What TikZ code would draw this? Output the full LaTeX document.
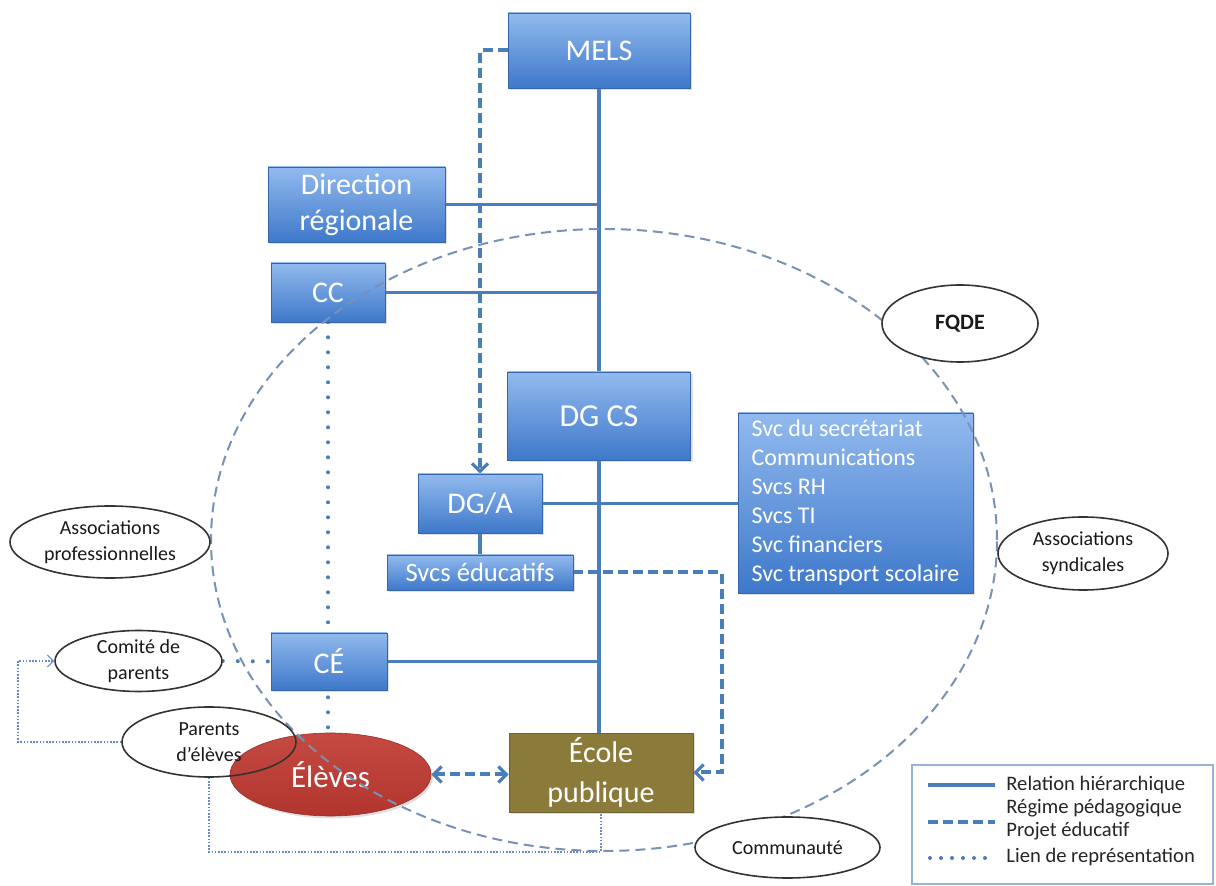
\documentclass[tikz,border=0pt]{standalone}
\usepackage{fontspec}
\setmainfont{Carlito}
\usetikzlibrary{arrows.meta,shadows,shapes.geometric,backgrounds}
\definecolor{boxtop}{RGB}{146,186,238}
\definecolor{boxbot}{RGB}{62,120,202}
\definecolor{hier}{RGB}{74,126,187}
\definecolor{bigell}{RGB}{120,145,182}
\definecolor{redel}{RGB}{192,58,50}
\definecolor{ecolecol}{RGB}{138,123,59}
\definecolor{thinblue}{RGB}{100,140,205}
\definecolor{legborder}{RGB}{149,179,215}
\tikzset{barb/.tip={Straight Barb[length=4pt,width=8pt,line width=1.6pt]},
  thinbarb/.tip={Straight Barb[length=3pt,width=6pt,line width=0.6pt]}}
\begin{document}
\begin{tikzpicture}[x=0.5pt,y=-0.5pt,
  bluebox/.style={rectangle, top color=boxtop, bottom color=boxbot, draw=boxbot!85!black, line width=0.3pt,
    text=white, font=\fontsize{15}{18}\selectfont, align=center, inner sep=0pt,
    drop shadow={opacity=0.25, shadow xshift=1pt, shadow yshift=-1.2pt}},
  oval/.style={ellipse, draw=black!80, line width=0.8pt, inner sep=0pt, align=center,
    font=\fontsize{10}{13}\selectfont, text=black!90},
  hierline/.style={draw=hier, line width=1.6pt},
  dashline/.style={draw=hier, line width=2pt, dash pattern=on 5pt off 2.5pt},
  dotline/.style={draw=hier, line width=2pt, line cap=round, dash pattern=on 0pt off 7.5pt},
  thindot/.style={draw=thinblue, line width=0.6pt, dash pattern=on 0.8pt off 0.8pt},
  legtext/.style={anchor=west, font=\fontsize{10.3}{11.5}\selectfont, text=black!85, align=left, inner sep=0pt}
]
\useasboundingbox (0,0) rectangle (1216,886);

% boxes
\node[bluebox, minimum width=91pt, minimum height=37.5pt] (mels) at (599,50.5) {MELS};
\node[bluebox, minimum width=88.5pt, minimum height=37.5pt] (dir) at (356.5,204.5) {Direction\\régionale};
\node[bluebox, minimum width=57pt, minimum height=29.5pt] (cc) at (328,292.5) {CC};
\node[bluebox, minimum width=91.5pt, minimum height=44pt, font=\fontsize{16}{18}\selectfont] (dgcs) at (599,416) {DG CS};
\node[bluebox, minimum width=62pt, minimum height=29.5pt] (dga) at (480,503.5) {DG/A};
\node[bluebox, minimum width=93pt, minimum height=17.5pt, font=\fontsize{13.3}{15}\selectfont] (svcedu) at (480,572.5) {Svcs éducatifs};
\node[bluebox, minimum width=117.5pt, minimum height=90pt, align=left, font=\fontsize{12}{14.5}\selectfont] (svc) at (855.5,503)
  {Svc du secrétariat\\Communications\\Svcs RH\\Svcs TI\\Svc financiers\\Svc transport scolaire};
\node[bluebox, minimum width=58pt, minimum height=28.5pt] (ce) at (329,661.5) {CÉ};
\node[rectangle, fill=ecolecol, draw=ecolecol!80!black, line width=0.3pt, text=white, align=center, inner sep=0pt,
  font=\fontsize{15}{20}\selectfont, minimum width=92pt, minimum height=39.5pt,
  drop shadow={opacity=0.25, shadow xshift=1pt, shadow yshift=-1.2pt}] (ecole) at (601,772.5) {École\\publique};
\node[ellipse, top color=redel!92!white, bottom color=redel!92!black, draw=redel!80!black, line width=0.3pt, text=white, inner sep=0pt,
  font=\fontsize{15.5}{18}\selectfont, minimum width=100.5pt, minimum height=41.5pt,
  drop shadow={opacity=0.25, shadow xshift=1pt, shadow yshift=-1.2pt}] (eleves) at (330.5,774.5) {Élèves};

% big dashed ellipse
\node[ellipse, draw=bigell, line width=1pt, dash pattern=on 5pt off 3pt, minimum width=393pt, minimum height=311pt, inner sep=0pt] (cs) at (604,540) {};

% outside ellipses
\node[oval, fill=white, minimum width=78pt, minimum height=38.5pt, font=\fontsize{11}{13}\selectfont\bfseries] (fqde) at (960,323.5) {FQDE};
\node[oval, minimum width=100pt, minimum height=36pt] (aprof) at (110,542) {Associations\\professionnelles};
\node[oval, fill=white, minimum width=85pt, minimum height=36.5pt] (asynd) at (1083,553.5) {Associations\\syndicales};
\node[oval, fill=white, minimum width=83.5pt, minimum height=29pt] (comite) at (138.5,661) {Comité de\\parents};
\node[oval, minimum width=87pt, minimum height=35pt] (parents) at (209,742) {Parents\\d’élèves};
\node[oval, fill=white, minimum width=92.5pt, minimum height=30.5pt] (commu) at (787.5,847.5) {Communauté};

% connectors (behind the boxes)
\coordinate (bendA) at (722,572.5);
\coordinate (pl) at (18,742);
\coordinate (pb) at (209,852);
\begin{scope}[on background layer]
  \draw[hierline] (mels.south) -- (mels.south |- ecole.north);
  \draw[hierline] (dir.east) -- (dir.east -| mels.south);
  \draw[hierline] (cc.east) -- (cc.east -| mels.south);
  \draw[hierline] (ce.east) -- (ce.east -| mels.south);
  \draw[hierline] (dga.east) -- (svc.west |- dga.east);
  \draw[hierline] (dga.south) -- (svcedu.north);
  \draw[dashline, -{barb}] (mels.west) -| (dga.north);
  \draw[dashline, -{barb}] (svcedu.east) -- (bendA) |- (ecole.east);
  \draw[dashline, {barb}-{barb}] (eleves.east) -- (eleves.east -| ecole.west);
  \draw[dotline] (cc.south) -- (eleves.north -| cc.south);
  \draw[dotline] (comite.east) -- (ce.west);
  \draw[thindot, -{thinbarb}] (parents.west) -- (pl) |- (comite.west);
  \draw[thindot] (parents.south) -- (pb) -| (ecole.south);
\end{scope}

% legend
\node[draw=legborder, line width=0.7pt, minimum width=150.5pt, minimum height=59.5pt, inner sep=0pt] (legend) at (1062.5,824.5) {};
\coordinate (l1a) at (928,785); \coordinate (l1b) at (995,785);
\coordinate (l2a) at (928,822); \coordinate (l2b) at (995,822);
\coordinate (l3a) at (930,858); \coordinate (l3b) at (995,858);
\draw[hierline] (l1a) -- (l1b);
\draw[dashline] (l2a) -- (l2b);
\draw[draw=hier, line width=2pt, line cap=round, dash pattern=on 0pt off 5.5pt] (l3a) -- (l3b);
\node[legtext] (lt1) at (1006,785) {Relation hiérarchique};
\node[legtext] (lt2) at (1006,820) {Régime pédagogique\\Projet éducatif};
\node[legtext] (lt3) at (1006,857) {Lien de représentation};
\end{tikzpicture}
\end{document}
